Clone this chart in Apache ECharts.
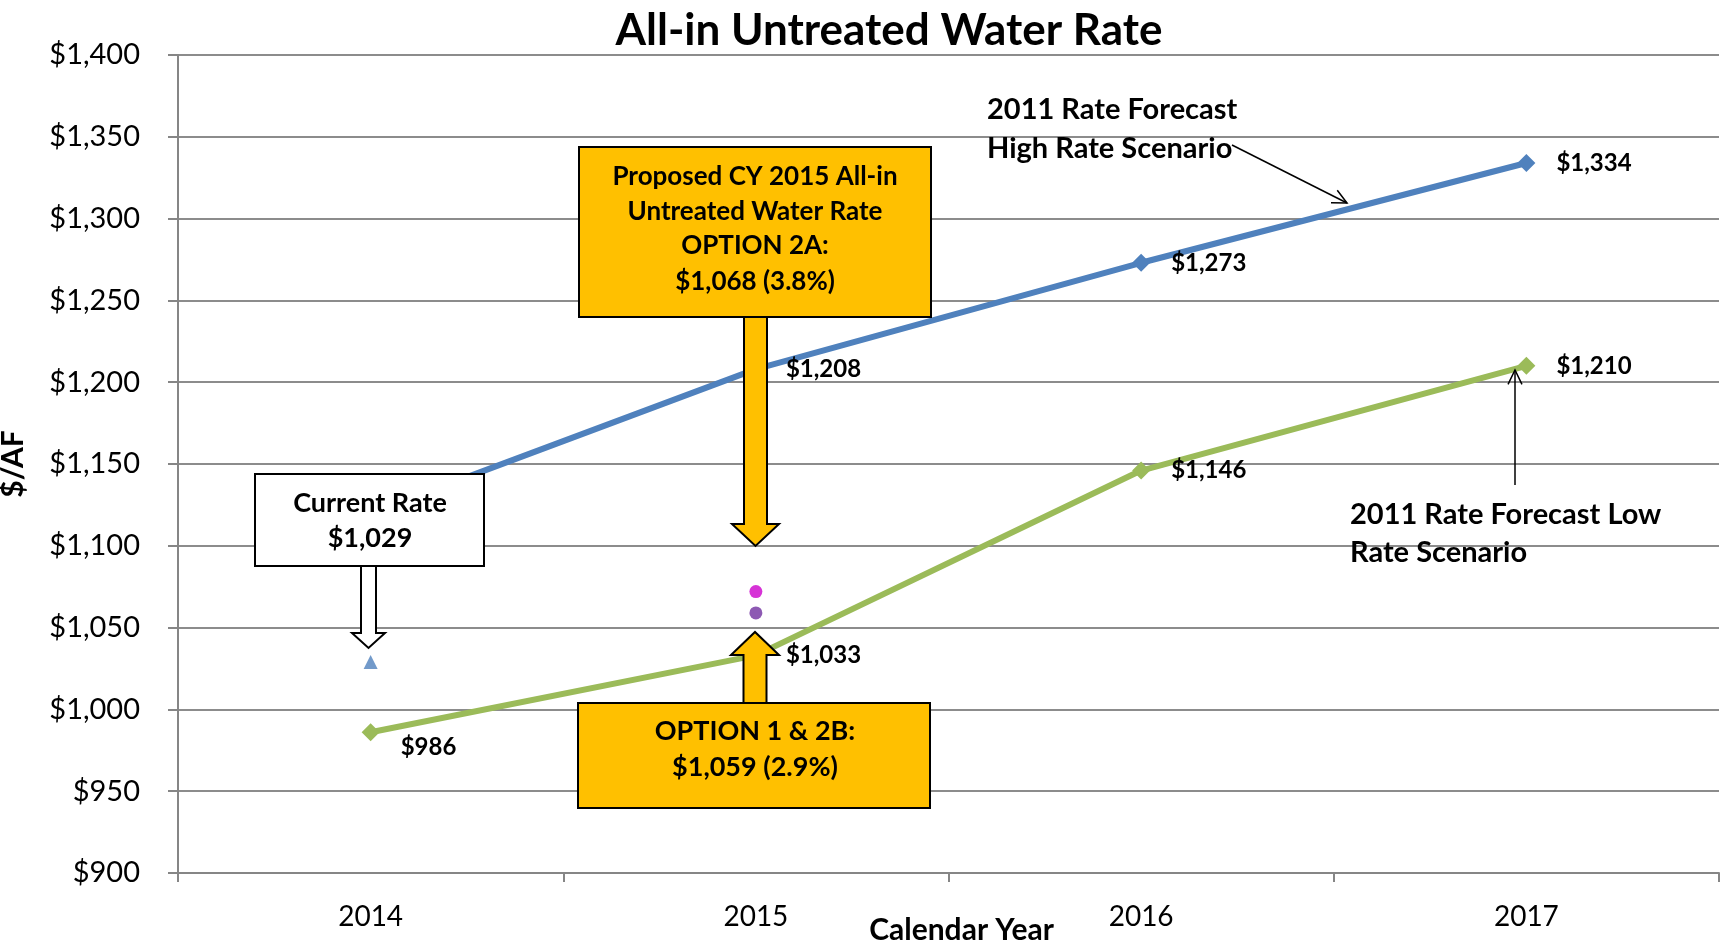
<!DOCTYPE html>
<html>
<head>
<meta charset="utf-8">
<script src="https://cdn.jsdelivr.net/npm/echarts@6/dist/echarts.min.js"></script>
<style>
html,body{margin:0;padding:0;background:#fff;}
#chart{width:1720px;height:942px;}
</style>
</head>
<body>
<div id="chart"></div>
<script>
// ---- data ----
const years = ['2014', '2015', '2016', '2017'];
const highScenario = [1120, 1208, 1273, 1334];   // 2011 Rate Forecast High Rate Scenario
const lowScenario = [986, 1033, 1146, 1210];     // 2011 Rate Forecast Low Rate Scenario
const currentRate = [1029, '-', '-', '-'];
const option2A = ['-', 1072, '-', '-'];
const option1and2B = ['-', 1059, '-', '-'];
const yMin = 900, yMax = 1400, yStep = 50;

const FONT = 'Lato, "Open Sans", sans-serif';
const money = v => '$' + Number(v).toLocaleString('en-US');

const chart = echarts.init(document.getElementById('chart'), null, {renderer: 'canvas'});

const labelStyle = {
  show: true, position: 'right', distance: 21,
  formatter: p => money(p.value),
  fontFamily: FONT, fontWeight: 'bold', fontSize: 24, color: '#000'
};

function arrowHead(x1, y1, x2, y2, len, ang) {
  const a = Math.atan2(y2 - y1, x2 - x1);
  return [
    [x2 - len * Math.cos(a - ang), y2 - len * Math.sin(a - ang)],
    [x2, y2],
    [x2 - len * Math.cos(a + ang), y2 - len * Math.sin(a + ang)]
  ];
}
function txt(x, y, text, size, align) {
  return {
    type: 'text', z: 110, x: x, y: y,
    style: {
      text: text, fill: '#000', font: 'bold ' + size + 'px ' + FONT,
      textAlign: align || 'center', textVerticalAlign: 'middle'
    }
  };
}

const yellow = '#FFC000';
const graphics = [
  // Current Rate box + hollow arrow
  {type: 'rect', z: 100, shape: {x: 255, y: 474, width: 229, height: 92},
   style: {fill: '#fff', stroke: '#000', lineWidth: 2}},
  txt(370, 503, 'Current Rate', 27),
  txt(370, 538, '$1,029', 27),
  {type: 'polygon', z: 100, shape: {points: [[361,566],[376,566],[376,633],[385,633],[368.5,648],[352,633],[361,633]]},
   style: {fill: '#fff', stroke: '#000', lineWidth: 2}},

  // Proposed option 2A box + down arrow
  {type: 'polygon', z: 100, shape: {points: [[744,317],[767,317],[767,524],[779,524],[755.5,546],[732,524],[744,524]]},
   style: {fill: yellow, stroke: '#000', lineWidth: 2}},
  {type: 'rect', z: 101, shape: {x: 579, y: 147, width: 352, height: 170},
   style: {fill: yellow, stroke: '#000', lineWidth: 2}},
  txt(755, 177, 'Proposed CY 2015 All-in', 26),
  txt(755, 212, 'Untreated Water Rate', 26),
  txt(755, 246, 'OPTION 2A:', 26),
  txt(755, 282, '$1,068 (3.8%)', 26),

  // Option 1 & 2B box + up arrow
  {type: 'polygon', z: 100, shape: {points: [[743.5,703],[766.5,703],[766.5,655],[779,655],[755,632],[731,655],[743.5,655]]},
   style: {fill: yellow, stroke: '#000', lineWidth: 2}},
  {type: 'rect', z: 101, shape: {x: 578, y: 703, width: 352, height: 105},
   style: {fill: yellow, stroke: '#000', lineWidth: 2}},
  txt(755, 731, 'OPTION 1 & 2B:', 27),
  txt(755, 767, '$1,059 (2.9%)', 27),

  // High scenario callout
  txt(987, 110, '2011 Rate Forecast', 29, 'left'),
  txt(987, 149, 'High Rate Scenario', 29, 'left'),
  {type: 'polyline', z: 100, shape: {points: [[1232,145],[1347,203]]}, style: {stroke: '#000', lineWidth: 1.5, fill: null}},
  {type: 'polyline', z: 100, shape: {points: arrowHead(1232,145,1347,203,16,0.45)}, style: {stroke: '#000', lineWidth: 1.5, fill: null}},

  // Low scenario callout
  txt(1350, 515, '2011 Rate Forecast Low', 29, 'left'),
  txt(1350, 553, 'Rate Scenario', 29, 'left'),
  {type: 'polyline', z: 100, shape: {points: [[1515,485],[1515,370]]}, style: {stroke: '#000', lineWidth: 1.5, fill: null}},
  {type: 'polyline', z: 100, shape: {points: arrowHead(1515,485,1515,370,16,0.45)}, style: {stroke: '#000', lineWidth: 1.5, fill: null}}
];

const option = {
  animation: false,
  backgroundColor: '#fff',
  title: {
    text: 'All-in Untreated Water Rate',
    left: 884, top: 4, textAlign: 'center',
    textStyle: {fontFamily: FONT, fontWeight: 'bold', fontSize: 44, color: '#000'}
  },
  grid: {left: 178, right: 1, top: 55, bottom: 69, containLabel: false, outerBoundsMode: 'none'},
  xAxis: {
    type: 'category', data: years, boundaryGap: true,
    name: 'Calendar Year', nameLocation: 'middle', nameGap: 42, nameMoveOverlap: false,
    nameTextStyle: {fontFamily: FONT, fontWeight: 'bold', fontSize: 30, color: '#000', padding: [0, 0, 0, 26]},
    axisLine: {lineStyle: {color: '#868686', width: 2}},
    axisTick: {show: true, length: 9, lineStyle: {color: '#868686', width: 2}},
    axisLabel: {fontFamily: FONT, fontSize: 28, color: '#000', margin: 30}
  },
  yAxis: {
    type: 'value', min: yMin, max: yMax, interval: yStep,
    name: '$/AF', nameLocation: 'middle', nameGap: 150, nameRotate: 90, nameMoveOverlap: false,
    nameTextStyle: {fontFamily: FONT, fontWeight: 'bold', fontSize: 30, color: '#000'},
    axisLine: {show: true, lineStyle: {color: '#868686', width: 2}},
    axisTick: {show: true, length: 10, lineStyle: {color: '#868686', width: 2}},
    axisLabel: {fontFamily: FONT, fontSize: 29, color: '#000', margin: 38, formatter: v => money(v)},
    splitLine: {show: true, lineStyle: {color: '#8c8c8c', width: 2}}
  },
  series: [
    {
      name: 'High Rate Scenario', type: 'line', z: 3,
      data: highScenario.map((v, i) => ({value: v, label: {show: i > 0}})),
      symbol: 'diamond', symbolSize: 18,
      itemStyle: {color: '#4F81BD'}, lineStyle: {color: '#4F81BD', width: 6},
      label: labelStyle
    },
    {
      name: 'Low Rate Scenario', type: 'line', z: 3,
      data: lowScenario.map((v, i) => (i === 0 ? {value: v, label: {offset: [0, 15]}} : {value: v})),
      symbol: 'diamond', symbolSize: 18,
      itemStyle: {color: '#9BBB59'}, lineStyle: {color: '#9BBB59', width: 6},
      label: labelStyle
    },
    {
      name: 'Current Rate', type: 'scatter', data: currentRate,
      symbol: 'triangle', symbolSize: 14, itemStyle: {color: '#4F81BD'}
    },
    {
      name: 'Option 2A', type: 'scatter', data: option2A,
      symbol: 'circle', symbolSize: 13, itemStyle: {color: '#CC00CC'}
    },
    {
      name: 'Option 1 & 2B', type: 'scatter', data: option1and2B,
      symbol: 'circle', symbolSize: 13, itemStyle: {color: '#7030A0'}
    }
  ],
  graphic: graphics
};
chart.setOption(option);
</script>
</body>
</html>
